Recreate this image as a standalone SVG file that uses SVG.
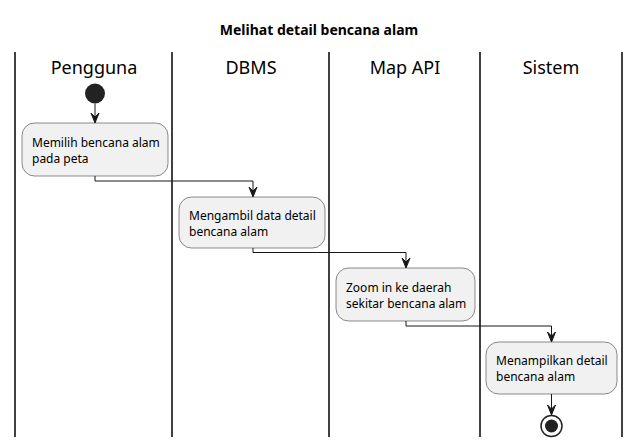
<svg xmlns="http://www.w3.org/2000/svg" width="639" height="447" viewBox="0 0 639 447">
<style>
.lane{stroke:#000;stroke-width:1.5;fill:none}
.hdr{font-family:"Noto Sans","DejaVu Sans",sans-serif;font-size:18px;fill:#000;text-anchor:middle}
.title{font-family:"Noto Sans","DejaVu Sans",sans-serif;font-size:14px;font-weight:bold;fill:#000;text-anchor:middle}
.box{fill:#F1F1F1;stroke:#181818;stroke-width:0.5}
.txt{font-family:"Noto Sans","DejaVu Sans",sans-serif;font-size:12px;fill:#000}
.edge{stroke:#181818;stroke-width:1;fill:none}
.head{fill:#181818;stroke:#181818;stroke-width:1}
</style>
<rect width="639" height="447" fill="#fff"/>
<text class="title" x="319" y="35">Melihat detail bencana alam</text>
<g id="lanes">
<line class="lane" x1="15" y1="52" x2="15" y2="437"/>
<line class="lane" x1="172" y1="52" x2="172" y2="437"/>
<line class="lane" x1="329" y1="52" x2="329" y2="437"/>
<line class="lane" x1="480" y1="52" x2="480" y2="437"/>
<line class="lane" x1="622" y1="52" x2="622" y2="437"/>
<text class="hdr" x="94" y="74">Pengguna</text>
<text class="hdr" x="251" y="74">DBMS</text>
<text class="hdr" x="405" y="74">Map API</text>
<text class="hdr" x="551" y="74">Sistem</text>
</g>
<g id="start"><circle cx="95" cy="93.5" r="10" fill="#222"/></g>
<g id="n1">
<rect class="box" x="22" y="123" width="146" height="53" rx="12.5"/>
<text class="txt" x="32" y="147">Memilih bencana alam</text>
<text class="txt" x="32" y="163">pada peta</text>
</g>
<g id="n2">
<rect class="box" x="179" y="197" width="146" height="51" rx="12.5"/>
<text class="txt" x="189" y="220">Mengambil data detail</text>
<text class="txt" x="189" y="236">bencana alam</text>
</g>
<g id="n3">
<rect class="box" x="336" y="268" width="139" height="53" rx="12.5"/>
<text class="txt" x="346" y="292">Zoom in ke daerah</text>
<text class="txt" x="346" y="308">sekitar bencana alam</text>
</g>
<g id="n4">
<rect class="box" x="486" y="342" width="131" height="52" rx="12.5"/>
<text class="txt" x="496" y="365">Menampilkan detail</text>
<text class="txt" x="496" y="381">bencana alam</text>
</g>
<g id="end">
<circle cx="551.5" cy="426" r="10.5" fill="none" stroke="#222" stroke-width="1.5"/>
<circle cx="551.5" cy="426" r="6.5" fill="#222"/>
</g>
<g id="connectors">
<polyline class="edge" points="95,103.5 95,122"/>
<polygon class="head" points="95,123 91,113 95,117 99,113"/>
<polyline class="edge" points="95,176 95,181 253,181 253,196"/>
<polygon class="head" points="253,197 249,187 253,191 257,187"/>
<polyline class="edge" points="253,248 253,252.5 406,252.5 406,267"/>
<polygon class="head" points="406,268 402,258 406,262 410,258"/>
<polyline class="edge" points="406,321 406,326 551.5,326 551.5,341"/>
<polygon class="head" points="551.5,342 547.5,332 551.5,336 555.5,332"/>
<polyline class="edge" points="551.5,394 551.5,414"/>
<polygon class="head" points="551.5,415 547.5,405 551.5,409 555.5,405"/>
</g>
</svg>
